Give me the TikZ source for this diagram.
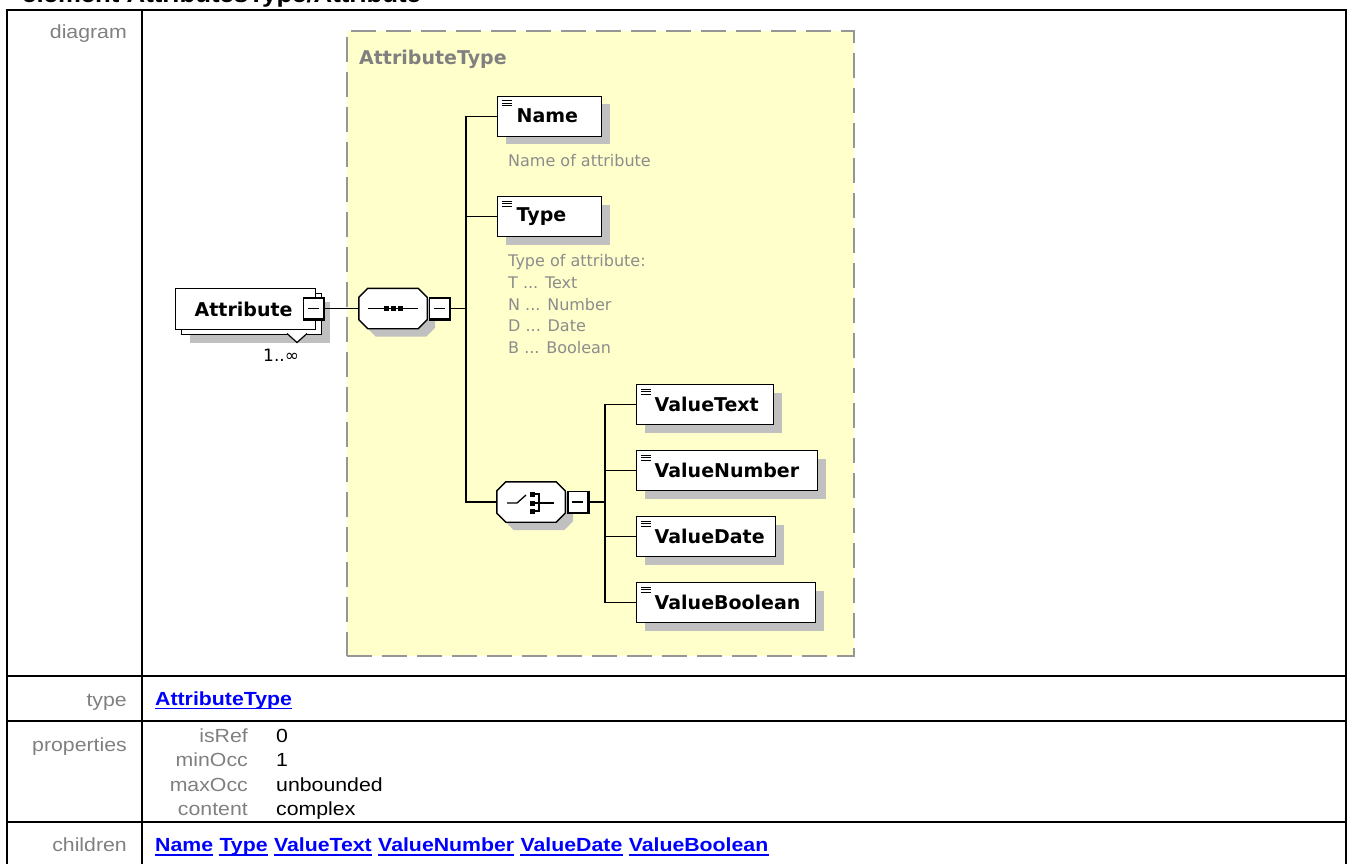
\documentclass[tikz,border=0pt]{standalone}
\usepackage{fontspec}
\setmainfont{Liberation Sans}[FakeStretch=1.12]
\newfontfamily\dvfont{DejaVu Sans}
\usetikzlibrary{shadows}
\definecolor{lblgray}{RGB}{128,128,128}
\definecolor{linkblue}{RGB}{0,0,255}
\definecolor{cmpfill}{RGB}{255,255,204}
\definecolor{dashgray}{RGB}{150,150,150}
\definecolor{shadowgray}{RGB}{192,192,192}
\definecolor{descgray}{RGB}{140,140,140}
\begin{document}
\begin{tikzpicture}[x=1pt,y=-1pt,
  tbl/.style={line width=2pt, draw=black},
  lbl/.style={inner sep=0pt, text=lblgray, font=\fontsize{19}{22}\selectfont},
  val/.style={inner sep=0pt, text=black, font=\fontsize{19}{22}\selectfont},
  lnk/.style={inner sep=0pt, text=linkblue, font=\bfseries\fontsize{19}{22}\selectfont, anchor=base west},
  ul/.style={draw=linkblue, line width=1.6pt},
  shd/.style={drop shadow={shadow xshift=8pt, shadow yshift=-8pt, fill=shadowgray, opacity=1}},
  elbase/.style={draw=black, line width=1.4pt, fill=white, inner sep=0pt, minimum height=40pt, text width=#1, align=left, anchor=north west, font=\dvfont\bfseries\fontsize{19}{22}\selectfont},
  elbox/.style={elbase=#1, shd},
  octo/.style={rectangle, draw=none, minimum width=68pt, minimum height=40pt, inner sep=0pt},
  octpath/.style={insert path={([xshift=9pt]#1.north west) -- ([xshift=-9pt]#1.north east) -- ([yshift=-9pt]#1.north east) -- ([yshift=9pt]#1.south east) -- ([xshift=-9pt]#1.south east) -- ([xshift=9pt]#1.south west) -- ([yshift=9pt]#1.south west) -- ([yshift=-9pt]#1.north west) -- cycle}},
  minusbox/.style={draw=black, line width=1.2pt, fill=white, minimum width=20pt, minimum height=21pt, inner sep=0pt},
  conn/.style={line width=1.4pt, draw=black},
  desc/.style={inner sep=0pt, text=descgray, font=\dvfont\fontsize{16}{21.67}\selectfont, align=left},
]
\useasboundingbox (0,0) rectangle (1348,863);
\clip (0,0) rectangle (1348,863);

% title (cut off at the top)
\node[anchor=base west, inner sep=0pt, font=\bfseries\fontsize{23}{26}\selectfont] (title) at (22,2.5) {element AttributesType/Attribute};

% table
\draw[tbl] (7,870) -- (7,9.5) -- (1346,9.5) -- (1346,870);
\draw[tbl] (141.5,9.5) -- (141.5,870);
\draw[tbl] (7,676) -- (1346,676);
\draw[tbl] (7,721) -- (1346,721);
\draw[tbl] (7,821.5) -- (1346,821.5);

\node[lbl, anchor=base east] (ldiag) at (127,38.5) {diagram};
\node[lbl, anchor=base east] (ltype) at (127,706) {type};
\node[lbl, anchor=base east] (lprop) at (127,751.5) {properties};
\node[lbl, anchor=base east] (lchild) at (127,851.5) {children};

\node[lnk] (typelink) at (155,705) {AttributeType};
\draw[ul] ([yshift=-3.5pt]typelink.base west) -- ([yshift=-3.5pt]typelink.base east);

\node[lbl, anchor=base east] (pk1) at (248,742.7) {isRef};
\node[lbl, anchor=base east] (pk2) at (248,766.7) {minOcc};
\node[lbl, anchor=base east] (pk3) at (248,791) {maxOcc};
\node[lbl, anchor=base east] (pk4) at (248,815) {content};
\node[val, anchor=base west] (pv1) at (276,742.7) {0};
\node[val, anchor=base west] (pv2) at (276,766.7) {1};
\node[val, anchor=base west] (pv3) at (276,791) {unbounded};
\node[val, anchor=base west] (pv4) at (276,815) {complex};

\node[lnk] (c1) at (155,851.5) {Name};
\node[lnk] (c2) at ([xshift=6pt]c1.base east) {Type};
\node[lnk] (c3) at ([xshift=6pt]c2.base east) {ValueText};
\node[lnk] (c4) at ([xshift=6pt]c3.base east) {ValueNumber};
\node[lnk] (c5) at ([xshift=6pt]c4.base east) {ValueDate};
\node[lnk] (c6) at ([xshift=6pt]c5.base east) {ValueBoolean};
\foreach \c in {c1,c2,c3,c4,c5,c6}
  \draw[ul] ([yshift=-3.5pt]\c.base west) -- ([yshift=-3.5pt]\c.base east);

% complex type box
\node[draw=dashgray, dash pattern=on 25pt off 10pt, line width=2pt, fill=cmpfill, minimum width=507pt, minimum height=625pt, inner sep=0pt, anchor=north west] (ctype) at (346,30) {};
\node[anchor=base west, inner sep=0pt, text=lblgray, font=\dvfont\bfseries\fontsize{19}{22}\selectfont] (ctitle) at (359,64) {AttributeType};

% Attribute element (repeated)
\node[draw=black, line width=1.4pt, fill=white, minimum width=140pt, minimum height=41pt, inner sep=0pt, anchor=north west, shd] (attrback) at (181,293) {};
\node[elbase=140pt, minimum height=41pt] (attr) at (175,288) {\hspace*{19pt}Attribute};
\draw[line width=1.2pt, fill=white] (287,333.5) -- (297,342.5) -- (307,333.5);
\node[anchor=base west, inner sep=0pt, font=\dvfont\fontsize{17}{20}\selectfont] (occ) at (263,361) {1..∞};
\node[minusbox] (am) at (313.5,308.5) {};

% compositor nodes (octagons)
\node[octo] (seq) at (393,308.5) {};
\node[octo] (cho) at (531,502) {};
\begin{scope}[transform canvas={xshift=8pt,yshift=-8pt}]
  \fill[shadowgray] [octpath=seq];
  \fill[shadowgray] [octpath=cho];
\end{scope}
\draw[line width=1.4pt, fill=white, line join=miter] [octpath=seq];
\draw[line width=1.4pt, fill=white, line join=miter] [octpath=cho];

% sequence symbol
\node[minusbox] (sm) at (439.5,308.5) {};
\draw[line width=1.4pt] ([xshift=-25pt]seq.center) -- ([xshift=25pt]seq.center);
\foreach \dx in {-7,0,7}
  \fill ([xshift=\dx pt]seq.center) ++(-2.5,-2.5) rectangle ++(5,5);
\draw[conn] (am.east) -- (seq.west);
\coordinate (tr) at (466,308.5);
\draw[conn] (sm.east) -- (tr);

% Name, Type
\node[elbox=104pt] (name) at (497,95.5) {\hspace*{19pt}Name};
\node[elbox=104pt] (type) at (497,196) {\hspace*{19pt}Type};
\node[desc, anchor=base west] (dname) at (508,166.7) {Name of attribute};
\node[desc, anchor=north west] (dtype) at (508,254.5) {Type of attribute:\\T ... Text\\N ... Number\\D ... Date\\B ... Boolean};

% choice symbol
\node[minusbox] (cm) at (578,502) {};
\begin{scope}[shift={(cho.center)}]
  \draw[line width=1.3pt] (-24,1) -- (-14,1) -- (-5,-7);
  \fill (-1,-10.5) rectangle (4,-5.5);
  \fill (-1,-1.5) rectangle (4,3.5);
  \fill (-1,6.5) rectangle (4,11.5);
  \draw[line width=1.3pt] (4,-8) -- (8,-8) -- (8,9) -- (4,9);
  \draw[line width=1.3pt] (4,1) -- (23,1);
\end{scope}
\draw[conn] (tr) |- (name.west);
\draw[conn] (tr) |- (type.west);
\draw[conn] (tr) |- (cho.west);
\coordinate (tr2) at (605,502);
\draw[conn] (cm.east) -- (tr2);

% value children
\node[elbox=137pt] (vt) at (636,384) {\hspace*{18pt}ValueText};
\node[elbox=181pt] (vn) at (636,450) {\hspace*{18pt}ValueNumber};
\node[elbox=139pt] (vd) at (636,516) {\hspace*{18pt}ValueDate};
\node[elbox=179pt] (vb) at (636,582) {\hspace*{18pt}ValueBoolean};
\foreach \n in {vt,vn,vd,vb}
  \draw[conn] (tr2) |- (\n.west);

% element icons
\foreach \n in {name,type,vt,vn,vd,vb}
  \foreach \dy in {5,7.5,10}
    \draw[line width=1pt] ([xshift=5pt,yshift=-\dy pt]\n.north west) -- ++(10,0);

% minus box decorations
\foreach \m in {am,sm,cm} {
  \draw[line width=2.4pt] (\m.north east) -- (\m.south east) -- (\m.south west);
  \draw[line width=1.4pt] ([xshift=-6pt]\m.center) -- ([xshift=5pt]\m.center);
}
\end{tikzpicture}
\end{document}
